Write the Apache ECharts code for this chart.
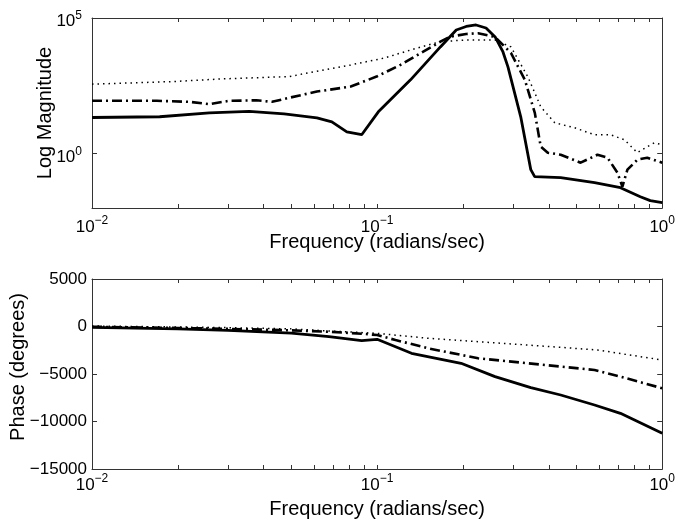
<!DOCTYPE html>
<html>
<head>
<meta charset="utf-8">
<script src="https://cdn.jsdelivr.net/npm/echarts@6/dist/echarts.min.js"></script>
<style>html,body{margin:0;padding:0;background:#fff;}#c{width:678px;height:523px;}</style>
</head>
<body>
<div id="c"></div>
<script>
// ---- Magnitude (top panel) ----
const magFreqSolid = [0.01,0.01727,0.0258,0.0356,0.0472,0.0615,0.0694,0.0783,0.0883,0.101,0.131,0.1667,0.1895,0.2053,0.2223,0.241,0.2594,0.2764,0.2877,0.319,0.346,0.357,0.4405,0.579,0.714,0.838,0.908,1];
const magSolid     = [21.6,23,32,36,29.6,21,15,6.4,5.0,35,526,8590,36200,48700,55300,42900,20000,5620,1580,22.9,0.258,0.1426,0.131,0.086,0.056,0.026,0.0187,0.0158];

const magFreqDashDot = [0.01,0.01687,0.02198,0.0258,0.0303,0.0377,0.0428,0.0491,0.0615,0.0808,0.0996,0.1208,0.1452,0.1667,0.1805,0.2053,0.226,0.2592,0.2947,0.3298,0.3574,0.375,0.3968,0.4405,0.5175,0.593,0.643,0.6966,0.725,0.755,0.818,0.8863,1];
const magDashDot     = [89,89,81.6,67,89,92.7,81.6,114.5,195,298,695,1870,5770,13460,20500,25800,27380,20000,5160,526,32,1.81,1.09,0.918,0.467,0.918,0.713,0.2,0.0612,0.258,0.601,0.713,0.467];

const magFreqDotted = [0.01,0.0192,0.0286,0.0491,0.0808,0.1054,0.1374,0.1667,0.2053,0.2298,0.2592,0.2947,0.338,0.375,0.42,0.493,0.579,0.658,0.737,0.818,0.8863,0.938,1];
const magDotted     = [365,455,571,695,1870,3300,7690,13460,15500,15500,15500,8600,678,53.5,13.8,9.0,5.0,5.0,3.27,1.09,1.81,2.53,2.14];

// ---- Phase (bottom panel) ----
const phaseFreqSolid = [0.01,0.02,0.03,0.05,0.0678,0.0883,0.1,0.132,0.197,0.2592,0.346,0.4405,0.579,0.7136,1];
const phaseSolid     = [-100,-250,-400,-700,-1070,-1490,-1350,-2820,-3870,-5280,-6440,-7210,-8260,-9140,-11240];

const phaseFreqDashDot = [0.01,0.02,0.03,0.05,0.0678,0.0883,0.1,0.116,0.1513,0.226,0.338,0.579,0.7136,1];
const phaseDashDot     = [-30,-150,-250,-400,-550,-760,-900,-1420,-2300,-3350,-3870,-4580,-5280,-6500];

const phaseFreqDotted = [0.01,0.02,0.03,0.05,0.0678,0.1,0.1513,0.226,0.338,0.593,1];
const phaseDotted     = [50,-50,-120,-250,-470,-720,-1240,-1600,-1950,-2470,-3530];

// ---- Axis ticks / labels ----
const freqLabelValues = [0.01, 0.1, 1];
const freqTickValues = [];
[0.01, 0.1].forEach(d => { for (let k = 1; k <= 9; k++) freqTickValues.push(+(k * d).toFixed(4)); });
freqTickValues.push(1);
const magLabelValues = [1, 100000];

const FONT = 'Liberation Sans, Arial, Helvetica, sans-serif';
const pairs = (xs, ys) => xs.map((x, i) => [x, ys[i]]);
const sup = v => {
  const e = Math.round(Math.log10(v));
  return '{b|10}{s|' + (e < 0 ? '\u2212' + (-e) : e) + '}';
};
const rich = {
  b: { fontSize: 17, fontFamily: FONT, color: '#000', lineHeight: 17, padding: [7, 0, 0, 0] },
  s: { fontSize: 12, fontFamily: FONT, color: '#000', lineHeight: 12, verticalAlign: 'top' }
};
const frameLine = { show: true, onZero: false, lineStyle: { color: '#333', width: 1 } };

function xAxes(gridIndex) {
  return [
    { type: 'log', logBase: 10, gridIndex, min: 0.01, max: 1, position: 'bottom',
      axisLine: frameLine, splitLine: { show: false },
      axisTick: { inside: true, length: 4, customValues: freqTickValues, lineStyle: { color: '#333' } },
      axisLabel: { customValues: freqLabelValues, margin: gridIndex === 0 ? 7 : 4, formatter: sup, rich },
      name: 'Frequency (radians/sec)', nameLocation: 'middle', nameMoveOverlap: false,
      nameGap: gridIndex === 0 ? 24 : 30,
      nameTextStyle: { fontSize: 20, fontFamily: FONT, color: '#000' } },
    { type: 'log', logBase: 10, gridIndex, min: 0.01, max: 1, position: 'top',
      axisLine: frameLine, splitLine: { show: false },
      axisTick: { inside: true, length: 4, customValues: freqTickValues, lineStyle: { color: '#333' } },
      axisLabel: { show: false } }
  ];
}

const option = {
  animation: false,
  backgroundColor: '#fff',
  grid: [
    { left: 92, top: 18, width: 573, height: 190 },
    { left: 92, top: 279, width: 573, height: 190 }
  ],
  xAxis: [...xAxes(0), ...xAxes(1)],
  yAxis: [
    { type: 'log', logBase: 10, gridIndex: 0, min: 0.01, max: 100000, position: 'left',
      axisLine: frameLine, splitLine: { show: false },
      axisTick: { inside: true, length: 5, customValues: magLabelValues, lineStyle: { color: '#333' } },
      axisLabel: { customValues: magLabelValues, margin: 10, formatter: sup, rich },
      name: 'Log Magnitude', nameLocation: 'middle', nameMoveOverlap: false, nameGap: 37, nameRotate: 90,
      nameTextStyle: { fontSize: 20, fontFamily: FONT, color: '#000' } },
    { type: 'log', logBase: 10, gridIndex: 0, min: 0.01, max: 100000, position: 'right',
      axisLine: frameLine, splitLine: { show: false },
      axisTick: { inside: true, length: 5, customValues: magLabelValues, lineStyle: { color: '#333' } },
      axisLabel: { show: false } },
    { type: 'value', gridIndex: 1, min: -15000, max: 5000, interval: 5000, position: 'left',
      axisLine: frameLine, splitLine: { show: false },
      axisTick: { inside: true, length: 5, lineStyle: { color: '#333' } },
      axisLabel: { margin: 5, fontSize: 17, fontFamily: FONT, color: '#000',
        formatter: v => String(v).replace('-', '\u2212') },
      name: 'Phase (degrees)', nameLocation: 'middle', nameMoveOverlap: false, nameGap: 64, nameRotate: 90,
      nameTextStyle: { fontSize: 20, fontFamily: FONT, color: '#000', padding: [0, 0, 0, 14] } },
    { type: 'value', gridIndex: 1, min: -15000, max: 5000, interval: 5000, position: 'right',
      axisLine: frameLine, splitLine: { show: false },
      axisTick: { inside: true, length: 5, lineStyle: { color: '#333' } },
      axisLabel: { show: false } }
  ],
  series: [
    { type: 'line', xAxisIndex: 0, yAxisIndex: 0, data: pairs(magFreqDotted, magDotted), showSymbol: false,
      lineStyle: { color: '#000', width: 1.5, type: [1.5, 4] } },
    { type: 'line', xAxisIndex: 0, yAxisIndex: 0, data: pairs(magFreqDashDot, magDashDot), showSymbol: false,
      lineStyle: { color: '#000', width: 2.6, type: [10, 4, 2, 4] } },
    { type: 'line', xAxisIndex: 0, yAxisIndex: 0, data: pairs(magFreqSolid, magSolid), showSymbol: false,
      lineStyle: { color: '#000', width: 2.8 } },
    { type: 'line', xAxisIndex: 2, yAxisIndex: 2, data: pairs(phaseFreqDotted, phaseDotted), showSymbol: false,
      lineStyle: { color: '#000', width: 1.5, type: [1.5, 4] } },
    { type: 'line', xAxisIndex: 2, yAxisIndex: 2, data: pairs(phaseFreqDashDot, phaseDashDot), showSymbol: false,
      lineStyle: { color: '#000', width: 2.6, type: [10, 4, 2, 4] } },
    { type: 'line', xAxisIndex: 2, yAxisIndex: 2, data: pairs(phaseFreqSolid, phaseSolid), showSymbol: false,
      lineStyle: { color: '#000', width: 2.8 } }
  ]
};
const chart = echarts.init(document.getElementById('c'), null, { renderer: 'canvas' });
chart.setOption(option);
</script>
</body>
</html>
